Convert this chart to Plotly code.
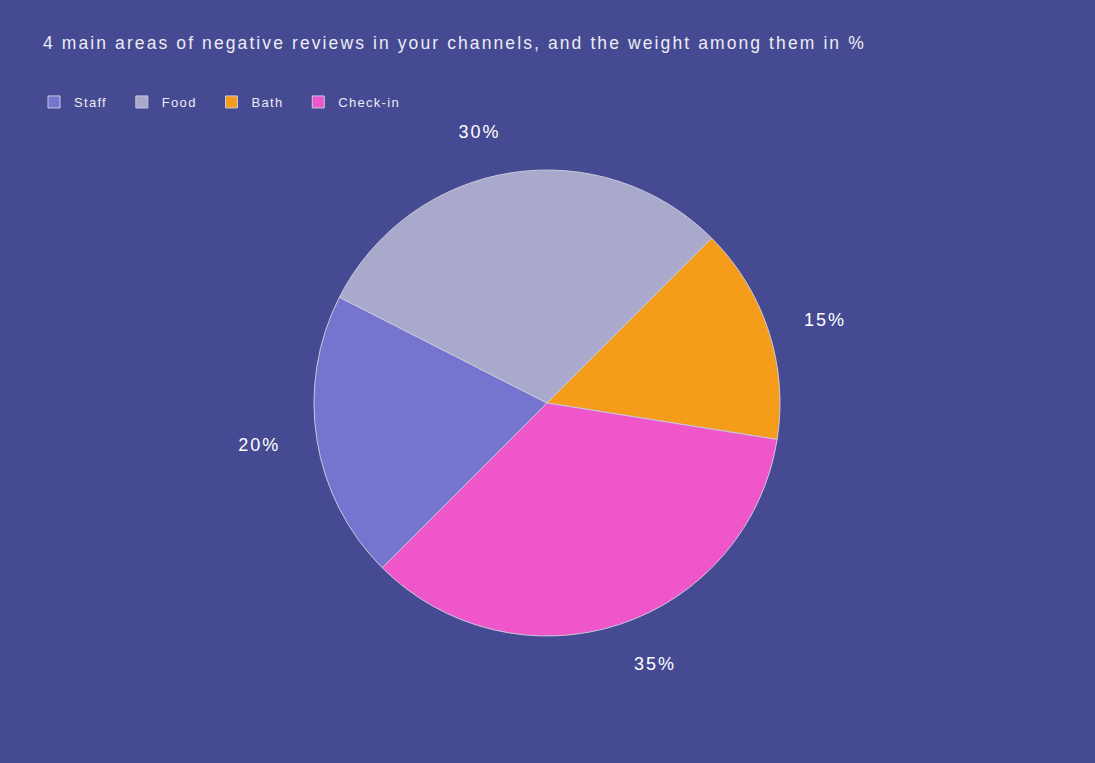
import plotly.graph_objects as go

categories = ["Staff", "Food", "Bath", "Check-in"]
shares = [20, 30, 15, 35]
slice_colors = ["#7574cf", "#a9a9cb", "#f59d1a", "#ee56c9"]
title_text = "4 main areas of negative reviews in your channels, and the weight among them in %"

W, H = 1095, 763
bg = "#464a92"
font = "Liberation Sans, Arial, sans-serif"


def spaced(text, px, pad=0):
    return f'<span style="letter-spacing:{px}px">{text}{"&nbsp;" * pad}</span>'


def box(cx, cy, r):
    # pie domain (paper fractions) for a centre / radius in pixels
    return dict(x=[(cx - r) / W, (cx + r) / W], y=[1 - (cy + r) / H, 1 - (cy - r) / H])


legend_labels = [spaced(c, 1.3, pad=2) for c in categories]

fig = go.Figure()

# the visible pie
fig.add_trace(go.Pie(
    labels=legend_labels,
    values=shares,
    sort=False,
    direction="clockwise",
    rotation=-135,
    marker=dict(colors=slice_colors, line=dict(color="#c9c9dd", width=1)),
    textinfo="none",
    domain=box(547, 403, 233),
    hoverinfo="label+percent",
))

# a transparent, slightly larger pie that only carries the outside labels
fig.add_trace(go.Pie(
    labels=legend_labels,
    values=shares,
    sort=False,
    direction="clockwise",
    rotation=-135,
    marker=dict(colors=["rgba(0,0,0,0)"] * 4, line=dict(width=0)),
    texttemplate=spaced("%{value}%", 2),
    textposition="outside",
    outsidetextfont=dict(family=font, size=18, color="#ffffff"),
    domain=box(547, 403, 265),
    showlegend=False,
    hoverinfo="skip",
))

fig.update_layout(
    width=W,
    height=H,
    paper_bgcolor=bg,
    plot_bgcolor=bg,
    margin=dict(l=0, r=0, t=0, b=0),
    font=dict(family=font, color="#ececf4"),
    title=dict(
        text=spaced(title_text, 2.1),
        x=43 / W,
        xref="container",
        xanchor="left",
        y=1 - 43 / H,
        yref="container",
        yanchor="middle",
        font=dict(family=font, size=17.5, color="#ececf4"),
    ),
    legend=dict(
        orientation="h",
        x=34 / W,
        xanchor="left",
        y=1 - 87 / H,
        yanchor="top",
        font=dict(family=font, size=13, color="#ececf4"),
        bgcolor="rgba(0,0,0,0)",
    ),
)

fig.write_html(
    "out.html",
    config={"displayModeBar": False},
    post_script="document.body.style.margin = '0';",
)
